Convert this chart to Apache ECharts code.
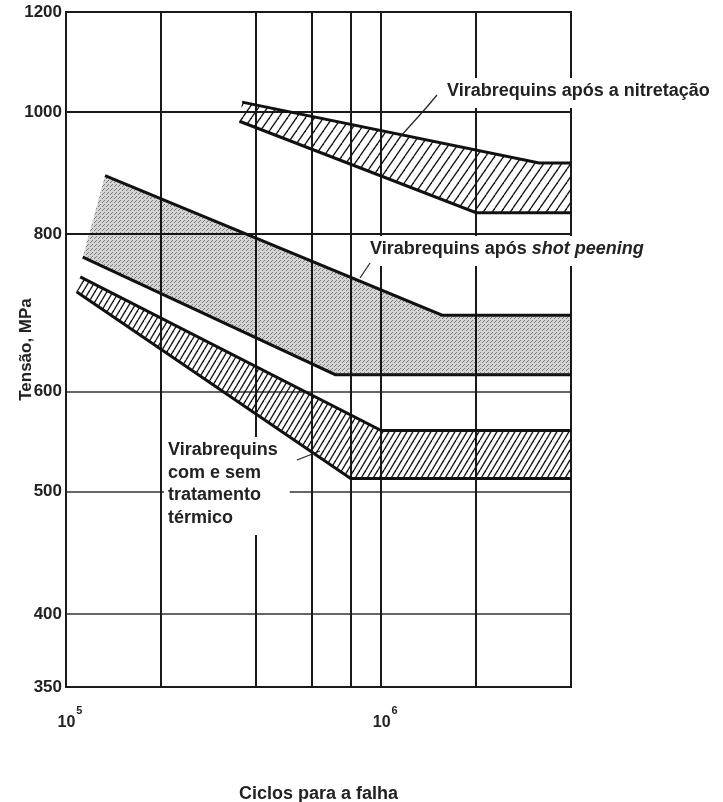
<!DOCTYPE html>
<html>
<head>
<meta charset="utf-8">
<script src="https://cdn.jsdelivr.net/npm/echarts@6/dist/echarts.min.js"></script>
<style>
html,body{margin:0;padding:0;background:#fff;}
#chart{width:723px;height:802px;}
</style>
</head>
<body>
<div id="chart"></div>
<script>
// ---- data (cycles to failure, stress in MPa) ----
const nitUpperX = [3.62e5, 3.17e6, 4e6];
const nitUpperY = [1018, 911, 911];
const nitLowerX = [3.55e5, 2.0e6, 4e6];
const nitLowerY = [983, 832, 832];

const spUpperX = [1.33e5, 1.56e6, 4e6];
const spUpperY = [890, 690, 690];
const spLowerX = [1.13e5, 7.15e5, 4e6];
const spLowerY = [767, 619, 619];

const utUpperX = [1.11e5, 1.0e6, 4e6];
const utUpperY = [740, 559, 559];
const utLowerX = [1.08e5, 8.0e5, 4e6];
const utLowerY = [720, 512, 512];

const yTicks = [350, 400, 500, 600, 800, 1000, 1200];
const yTickWidth = [2, 1.5, 1.5, 1.5, 2, 2, 2];
const xGridLines = [1e5, 2e5, 4e5, 6e5, 8e5, 1e6, 2e6, 4e6];
const xTickValues = [1e5, 1e6];
const xTickExp = ['5', '6'];

const FONT = '"Liberation Sans", Arial, Helvetica, sans-serif';

function hatch(w, h, lw) {
  const c = document.createElement('canvas');
  c.width = w; c.height = h;
  const g = c.getContext('2d');
  g.strokeStyle = '#151515';
  g.lineWidth = lw;
  for (let k = -1; k <= 1; k++) {
    g.beginPath();
    g.moveTo(k * w, h);
    g.lineTo(k * w + w, 0);
    g.stroke();
  }
  return { image: c, repeat: 'repeat' };
}
function stipple() {
  const c = document.createElement('canvas');
  c.width = 4; c.height = 4;
  const g = c.getContext('2d');
  g.fillStyle = 'rgba(0,0,0,0.17)';
  g.fillRect(0, 0, 4, 4);
  g.fillStyle = 'rgba(0,0,0,0.42)';
  g.fillRect(0, 0, 1, 1);
  g.fillRect(2, 2, 1, 1);
  g.fillRect(3, 1, 1, 1);
  return { image: c, repeat: 'repeat' };
}

function band(upX, upY, loX, loY, fill) {
  return {
    type: 'custom',
    coordinateSystem: 'cartesian2d',
    silent: true,
    z: 6,
    data: [[upX[0], upY[0]]],
    renderItem: function (params, api) {
      const up = upX.map(function (x, i) { return api.coord([x, upY[i]]); });
      const lo = loX.map(function (x, i) { return api.coord([x, loY[i]]); });
      const poly = up.concat(lo.slice().reverse());
      return {
        type: 'group',
        children: [
          { type: 'polygon', shape: { points: poly }, style: { fill: fill, stroke: 'none' } },
          { type: 'polyline', shape: { points: up }, style: { fill: 'none', stroke: '#111', lineWidth: 3 } },
          { type: 'polyline', shape: { points: lo }, style: { fill: 'none', stroke: '#111', lineWidth: 3 } }
        ]
      };
    }
  };
}

const chart = echarts.init(document.getElementById('chart'), null, { renderer: 'canvas' });

const option = {
  backgroundColor: '#fff',
  animation: false,
  grid: {
    left: 66, right: 152, top: 12, bottom: 115,
    outerBoundsMode: 'none', containLabel: false,
    show: true, borderColor: '#111', borderWidth: 2, backgroundColor: '#fff'
  },
  xAxis: {
    type: 'log', logBase: 10, min: 1e5, max: 4e6,
    axisLine: { show: false }, axisTick: { show: false }, splitLine: { show: false },
    axisLabel: {
      margin: 18,
      formatter: function (v) {
        for (let i = 0; i < xTickValues.length; i++) {
          if (Math.abs(Math.log10(v) - Math.log10(xTickValues[i])) < 1e-6) {
            return '{b|10}{s|' + xTickExp[i] + '}';
          }
        }
        return '';
      },
      rich: {
        b: { fontSize: 16, fontWeight: 'bold', fontFamily: FONT, color: '#222', lineHeight: 26, verticalAlign: 'bottom', padding: [0, 0, 0, 8] },
        s: { fontSize: 11, fontWeight: 'bold', fontFamily: FONT, color: '#222', verticalAlign: 'top', padding: [0, 0, 0, 1] }
      }
    },
    name: 'Ciclos para a falha',
    nameLocation: 'middle',
    nameGap: 98,
    nameTextStyle: { fontSize: 18, fontWeight: 'bold', fontFamily: FONT, color: '#222' }
  },
  yAxis: {
    type: 'log', logBase: 10, min: 350, max: 1200,
    axisLine: { show: false }, axisTick: { show: false }, splitLine: { show: false },
    axisLabel: { show: false },
    name: 'Tensão, MPa',
    nameLocation: 'middle',
    nameGap: 31,
    nameRotate: 90,
    nameTextStyle: { fontSize: 17, fontWeight: 'bold', fontFamily: FONT, color: '#222' }
  },
  series: [
    {
      type: 'line',
      data: [[1e5, 350]],
      showSymbol: false,
      silent: true,
      z: 2,
      lineStyle: { opacity: 0 },
      markLine: {
        z: 2,
        silent: true,
        symbol: 'none',
        animation: false,
        label: {
          show: true, position: 'start', distance: 4,
          formatter: function (p) { return String(p.value); },
          fontSize: 17, fontWeight: 'bold', fontFamily: FONT, color: '#222'
        },
        lineStyle: { type: 'solid', color: '#222' },
        data: yTicks.map(function (v, i) {
          return { yAxis: v, lineStyle: { width: yTickWidth[i], color: yTickWidth[i] > 1.6 ? '#1a1a1a' : '#333', type: 'solid' } };
        })
      }
    },
    {
      type: 'line',
      data: [[1e5, 350]],
      showSymbol: false,
      silent: true,
      z: 2,
      lineStyle: { opacity: 0 },
      markLine: {
        z: 2,
        silent: true,
        symbol: 'none',
        animation: false,
        label: { show: false },
        lineStyle: { type: 'solid', color: '#1a1a1a', width: 2 },
        data: xGridLines.map(function (v) { return { xAxis: v }; })
      }
    },
    band(spUpperX, spUpperY, spLowerX, spLowerY, stipple()),
    band(nitUpperX, nitUpperY, nitLowerX, nitLowerY, hatch(9, 13, 1.3)),
    band(utUpperX, utUpperY, utLowerX, utLowerY, hatch(6, 10, 1.4))
  ],
  graphic: [
    {
      type: 'text', z: 100, left: 441, top: 78,
      style: {
        text: 'Virabrequins após a nitretação',
        font: 'bold 18px ' + FONT, fill: '#222',
        backgroundColor: '#fff', padding: [4, 4, 8, 6]
      }
    },
    {
      type: 'text', z: 100, left: 364, top: 236,
      style: {
        text: 'Virabrequins após {i|shot peening}',
        font: 'bold 18px ' + FONT, fill: '#222',
        backgroundColor: '#fff', padding: [4, 6, 8, 6],
        rich: { i: { fontStyle: 'italic', fontWeight: 'bold', fontSize: 18, fontFamily: FONT, fill: '#222' } }
      }
    },
    {
      type: 'text', z: 4, left: 164, top: 437,
      style: {
        text: 'Virabrequins\ncom e sem\ntratamento\ntérmico',
        font: 'bold 18px ' + FONT, fill: '#222', lineHeight: 22.5,
        backgroundColor: '#fff', padding: [2, 12, 6, 4]
      }
    },
    {
      type: 'polyline', z: 100,
      shape: { points: [[437, 95], [426, 108], [400, 137]], smooth: 0.3 },
      style: { stroke: '#222', lineWidth: 1.2, fill: 'none' }
    },
    {
      type: 'polyline', z: 100,
      shape: { points: [[370, 263], [360, 278]] },
      style: { stroke: '#222', lineWidth: 1.2, fill: 'none' }
    },
    {
      type: 'polyline', z: 100,
      shape: { points: [[297, 460], [320, 451]] },
      style: { stroke: '#222', lineWidth: 1.2, fill: 'none' }
    }
  ]
};
chart.setOption(option);
</script>
</body>
</html>
